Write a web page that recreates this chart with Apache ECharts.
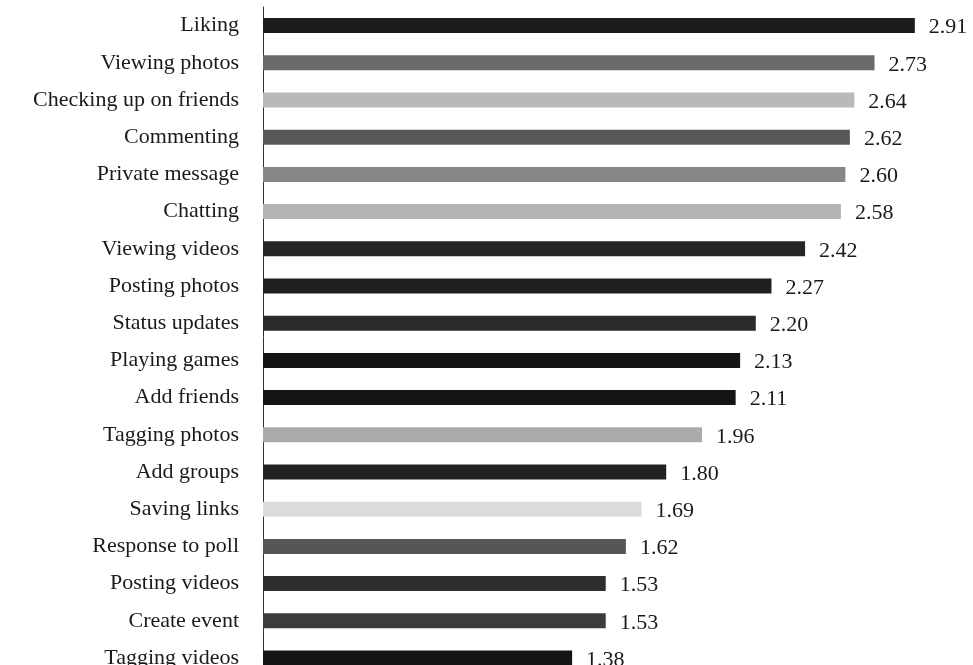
<!DOCTYPE html>
<html>
<head>
<meta charset="utf-8">
<script src="https://cdn.jsdelivr.net/npm/echarts@6/dist/echarts.min.js"></script>
<style>
  html, body { margin: 0; padding: 0; background: #ffffff; }
  #chart { width: 973px; height: 665px; }
</style>
</head>
<body>
<div id="chart"></div>
<script>
// Activities, listed top to bottom
const activities = [
  'Liking', 'Viewing photos', 'Checking up on friends', 'Commenting',
  'Private message', 'Chatting', 'Viewing videos', 'Posting photos',
  'Status updates', 'Playing games', 'Add friends', 'Tagging photos',
  'Add groups', 'Saving links', 'Response to poll', 'Posting videos',
  'Create event', 'Tagging videos'
];

// Mean score for each activity
const meanScores = [
  2.91, 2.73, 2.64, 2.62, 2.60, 2.58, 2.42, 2.27, 2.20,
  2.13, 2.11, 1.96, 1.80, 1.69, 1.62, 1.53, 1.53, 1.38
];

// Grey shade of each bar
const barShades = [
  '#1c1c1c', '#6a6a6a', '#b9b9b9', '#585858', '#878787', '#b3b3b3',
  '#262626', '#202020', '#2a2a2a', '#141414', '#141414', '#ababab',
  '#222222', '#dcdcdc', '#565656', '#2e2e2e', '#3c3c3c', '#141414'
];

const chart = echarts.init(document.getElementById('chart'), null, { renderer: 'canvas' });

// Height of one category row; the last row runs past the bottom edge
const band = 37.2;
const serif = '"Liberation Serif", "Times New Roman", serif';

chart.setOption({
  animation: false,
  backgroundColor: '#ffffff',
  grid: {
    left: 263,
    top: 7,
    width: 672,
    height: band * activities.length,
    containLabel: false,
    outerBoundsMode: 'none'
  },
  xAxis: {
    type: 'value',
    min: 0,
    max: 3,
    show: false
  },
  yAxis: {
    type: 'category',
    inverse: true,
    data: activities,
    axisLine: { show: true, lineStyle: { color: '#333333', width: 1 } },
    axisTick: { show: false },
    splitLine: { show: false },
    axisLabel: {
      margin: 24,
      color: '#1a1a1a',
      fontFamily: serif,
      fontSize: 22
    }
  },
  series: [{
    type: 'bar',
    barWidth: 15,
    data: meanScores.map((v, i) => ({ value: v, itemStyle: { color: barShades[i] } })),
    label: {
      show: true,
      position: 'right',
      distance: 14,
      offset: [0, 2],
      color: '#1a1a1a',
      fontFamily: serif,
      fontSize: 22,
      formatter: p => p.value.toFixed(2)
    }
  }]
});
</script>
</body>
</html>
